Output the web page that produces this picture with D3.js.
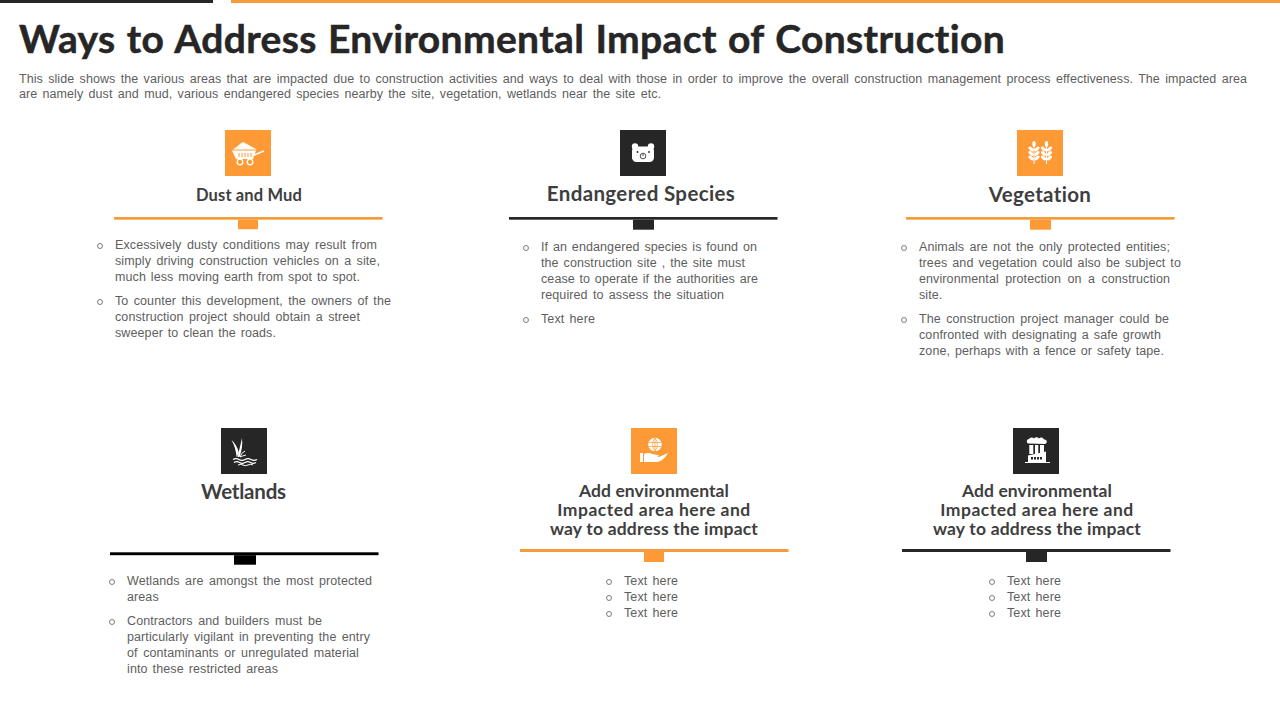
<!DOCTYPE html>
<html><head><meta charset="utf-8">
<script src="https://cdn.jsdelivr.net/npm/d3@7/dist/d3.min.js"></script>
<style>html,body{margin:0;padding:0;background:#fff;overflow:hidden}svg{display:block}text{font-variant-ligatures:none}</style>
</head><body><svg id="c" width="1280" height="720"></svg>
<script>
const ORANGE="#FD9A36", RULE="#F59B3C", DARK="#262626", BLACK="#000000", BODY="#5E5E5E", HEAD="#3E3E3E";
const titleText="Ways to Address Environmental Impact of Construction";
const subtitleLines=[
"This slide shows the various  areas that are impacted due to construction activities and ways to deal with those in order to improve  the overall  construction management  process effectiveness.  The  impacted area",
"are namely dust and mud, various  endangered  species nearby the site, vegetation,  wetlands near the site etc."];
const headings=[["Dust and Mud"],["Endangered Species"],["Vegetation"],["Wetlands"],
["Add environmental","Impacted area here and","way to address the impact"],
["Add environmental","Impacted area here and","way to address the impact"]];
const paragraphs=[
[["Excessively dusty conditions  may result from","simply driving  construction vehicles  on a site,","much less moving  earth from spot to spot."],
 ["To counter this development,  the owners  of the","construction project should obtain a street","sweeper to clean the roads."]],
[["If an endangered  species is found on","the construction site , the site must","cease to operate if the authorities are","required to assess the situation"],["Text here"]],
[["Animals are not the only protected entities;","trees and vegetation could also be subject to","environmental  protection on a construction","site."],
 ["The construction project manager could be","confronted with designating a safe growth","zone, perhaps with a fence or safety tape."]],
[["Wetlands are amongst the most protected","areas"],
 ["Contractors and builders must be","particularly vigilant  in preventing  the entry","of contaminants or unregulated material","into these restricted areas"]],
[["Text here"],["Text here"],["Text here"]],
[["Text here"],["Text here"],["Text here"]]];
const iconNames=["cart","bear","wheat","reed","globe","factory"];

// layout
const L=[
{c:ORANGE,ix:225,iy:130,rx:114,ry:217,rh:2.7,tx:238,tw:20,th:9.5,fs:16,hc:249,hy:[201],hw:[106],bx:100,tx0:115,y0:249,ends:[[377,380,360],[391,360,276]],paraGap:8},
{c:DARK,ix:620,iy:130,rx:509,ry:217,rh:2.7,tx:633,tw:21,th:10,fs:20,hc:641,hy:[200.5],hw:[188],bx:526,tx0:541,y0:251,ends:[[757,745,758,724],[595]],paraGap:8},
{c:ORANGE,ix:1017,iy:130,rx:906,ry:217,rh:2.7,tx:1030,tw:21,th:10,fs:20,hc:1040,hy:[202],hw:[102],bx:904,tx0:919,y0:251,ends:[[1170,1181,1170,943],[1169,1161,1164]],paraGap:8},
{c:BLACK,ix:221,iy:428,rx:110,ry:552.3,rh:2.9,tx:234,tw:22,th:9.5,fs:20,hc:243.5,hy:[499],hw:[85],bx:112,tx0:127,y0:585,ends:[[372,158],[322,370,359,278]],paraGap:8},
{c:ORANGE,ix:631,iy:428,rx:520,ry:549,rh:3,tx:644,tw:20,th:10,fs:17,hc:654,hy:[497,516,535],hw:[150,193,208],bx:609,tx0:624,y0:585,ends:[[678],[678],[678]],paraGap:0},
{c:DARK,ix:1013,iy:428,rx:902,ry:549,rh:3,tx:1026,tw:21,th:10,fs:17,hc:1037,hy:[497,516,535],hw:[150,193,208],bx:992,tx0:1007,y0:585,ends:[[1061],[1061],[1061]],paraGap:0}];

const svg=d3.select("#c");
svg.append("rect").attr("x",0).attr("y",0).attr("width",213).attr("height",3).attr("fill",DARK);
svg.append("rect").attr("x",231).attr("y",0).attr("width",1049).attr("height",3).attr("fill",RULE);

function fit(sel,target){ // stretch a line to its measured end through word spacing
  const n=sel.node(), w=n.getComputedTextLength();
  const gaps=(sel.text().match(/\s+/g)||[]).length;
  if(gaps) sel.style("word-spacing",((target-w)/gaps)+"px");
}
function fitLetters(sel,target){ // stretch a heading through letter spacing
  const n=sel.node(), w=n.getComputedTextLength();
  sel.style("letter-spacing",((target-w)/(sel.text().length-1))+"px");
}
const title=svg.append("text").attr("x",19).attr("y",53).text(titleText)
 .attr("font-family","Lato").attr("font-weight",700).attr("font-size",39).attr("fill",DARK)
 .attr("stroke",DARK).attr("stroke-width",.5).style("letter-spacing","0.35px");
fit(title,986);
subtitleLines.forEach((t,i)=>{
  const s=svg.append("text").attr("x",19).attr("y",83+i*15).text(t)
   .attr("font-family","Liberation Sans").attr("font-size",12.5).attr("fill",BODY).style("letter-spacing","0.05px");
  fit(s,i?642:1228);
});

const icons={
 cart(g){
  g.append("path").attr("d","M8 19.5Q13 16 15 14L18 12L22 14Q27 17 32 19.5Z").attr("fill","#fff");
  g.append("path").attr("d","M7 20.5H31L28 29H11Z").attr("fill","#fff");
  g.append("path").attr("d","M14 23V27M17 23V27M20 23V27M23 23V27M26 23V27").attr("stroke",ORANGE).attr("stroke-width",1);
  g.append("path").attr("d","M29 25L39 21").attr("stroke","#fff").attr("stroke-width",1.6).attr("fill","none");
  [15,25].forEach(x=>g.append("circle").attr("cx",x).attr("cy",32).attr("r",2.8).attr("fill",ORANGE).attr("stroke","#fff").attr("stroke-width",1.3));
 },
 bear(g){
  [15,31].forEach(x=>g.append("circle").attr("cx",x).attr("cy",16.5).attr("r",3.2).attr("fill","#fff"));
  g.append("rect").attr("x",12).attr("y",16.5).attr("width",22).attr("height",15.5).attr("rx",4.5).attr("fill","#fff");
  [17.5,29].forEach(x=>g.append("circle").attr("cx",x).attr("cy",22).attr("r",.9).attr("fill",DARK));
  g.append("circle").attr("cx",23).attr("cy",26).attr("r",2.8).attr("fill","#fff").attr("stroke",DARK).attr("stroke-width",.8);
  g.append("circle").attr("cx",23).attr("cy",25).attr("r",.8).attr("fill",DARK);
 },
 wheat(g){
  [17,29.5].forEach(x=>{
   g.append("path").attr("d",`M${x} 16V34`).attr("stroke","#fff").attr("stroke-width",1);
   g.append("ellipse").attr("cx",x).attr("cy",14).attr("rx",1.7).attr("ry",3).attr("fill","#fff");
   [19,23.5,28].forEach(y=>[-1,1].forEach(d=>g.append("ellipse").attr("cx",x+d*2.9).attr("cy",y)
     .attr("rx",3.1).attr("ry",1.6).attr("fill","#fff").attr("transform",`rotate(${d*-40} ${x+d*2.9} ${y})`)));
  });
 },
 reed(g){
  g.append("path").attr("d","M15.5 29Q15 20 10.5 12Q15.5 16 18 25Z").attr("fill","#fff");
  g.append("path").attr("d","M16.5 29Q19 19 21 10Q22 20 18.5 29Z").attr("fill","#fff");
  g.append("path").attr("d","M19 29Q20 25 24 23M19 29Q21 28 25 27").attr("stroke","#fff").attr("stroke-width",1).attr("fill","none");
  g.append("path").attr("d","M12 31.5q3 -1.6 6 0t6 0t6 0t6 0").attr("stroke","#fff").attr("stroke-width",1.2).attr("fill","none");
  g.append("path").attr("d","M13 34.5q3 -1.6 5.5 0t5.5 0t5.5 0t5.5 0").attr("stroke","#fff").attr("stroke-width",1.2).attr("fill","none");
  g.append("path").attr("d","M17 37q3 -1.4 5 0t5 0t5 0").attr("stroke","#fff").attr("stroke-width",1).attr("fill","none");
 },
 globe(g){
  g.append("circle").attr("cx",24).attr("cy",16.5).attr("r",6.8).attr("fill","#fff");
  g.append("path").attr("d","M17.5 14.5H30.5M17.5 18.5H30.5M24 10V23M24 10Q19 16.5 24 23M24 10Q29 16.5 24 23").attr("stroke",ORANGE).attr("stroke-width",.7).attr("fill","none");
  g.append("path").attr("d","M9 25H12V34H9Z").attr("fill","#fff");
  g.append("path").attr("d","M13 26Q18 24 21 26L27 27Q29 28 26 29L21 29L28 29L37 25Q33 32 27 34H13Z").attr("fill","#fff");
 },
 factory(g){
  g.append("path").attr("d","M15 15.5a2.4 2.4 0 0 1 1 -4.5a3 3 0 0 1 5 -.5a3 3 0 0 1 5 0a3 3 0 0 1 5 1a2.3 2.3 0 0 1 1 4.5Z").attr("fill","#fff");
  [[16.3,4],[22,3.3],[27,4]].forEach(c=>g.append("rect").attr("x",c[0]).attr("y",17).attr("width",c[1]).attr("height",9).attr("fill","#fff"));
  g.append("path").attr("d","M15 27.5L33 23.5V34H15Z").attr("fill","#fff");
  [18,21,24,27].forEach(x=>g.append("rect").attr("x",x).attr("y",29).attr("width",2).attr("height",2.5).attr("fill",DARK));
  g.append("path").attr("d","M12 34.5H37").attr("stroke","#fff").attr("stroke-width",1);
 }
};

const cards=svg.selectAll("g.card").data(L).join("g").attr("class","card");
cards.each(function(d,i){
  const g=d3.select(this);
  const ic=g.append("g").attr("transform",`translate(${d.ix},${d.iy})`);
  ic.append("rect").attr("width",46).attr("height",46).attr("fill",d.c===BLACK?DARK:d.c);
  icons[iconNames[i]](ic);
  headings[i].forEach((t,k)=>{
    const h=g.append("text").attr("x",d.hc).attr("y",d.hy[k]).attr("text-anchor","middle").text(t)
    .attr("font-family","Lato").attr("font-weight",700).attr("font-size",d.fs+0.5).attr("fill",HEAD);
    fitLetters(h,d.hw[k]);
  });
  g.append("rect").attr("x",d.rx).attr("y",d.ry).attr("width",268.5).attr("height",d.rh).attr("fill",d.c===ORANGE?RULE:d.c);
  g.append("rect").attr("x",d.tx).attr("y",d.ry+d.rh).attr("width",d.tw).attr("height",d.th).attr("fill",d.c);
  let y=d.y0;
  paragraphs[i].forEach((lines,p)=>{
    g.append("circle").attr("cx",d.bx).attr("cy",y-3).attr("r",2.5).attr("fill","none").attr("stroke",BODY).attr("stroke-width",.8);
    lines.forEach((t,k)=>{
      const s=g.append("text").attr("x",d.tx0).attr("y",y).text(t)
        .attr("font-family","Liberation Sans").attr("font-size",12.5).attr("fill",BODY).style("letter-spacing","0.1px");
      fit(s,d.ends[p][k]-d.tx0);
      y+=16;
    });
    y+=d.paraGap;
  });
});
</script></body></html>
